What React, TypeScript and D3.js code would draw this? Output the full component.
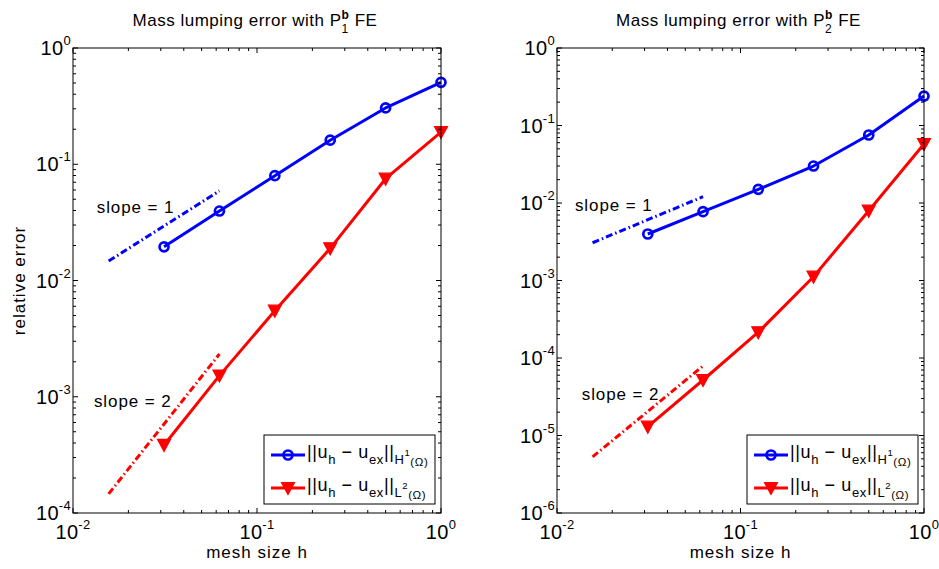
import React from 'react';
import * as d3 from 'd3';

// ---- data ----
const meshH = [1 / 32, 1 / 16, 1 / 8, 1 / 4, 1 / 2, 1];
const p1H1 = [0.0195, 0.0396, 0.0797, 0.161, 0.305, 0.507];
const p1L2 = [3.85e-4, 1.52e-3, 5.5e-3, 0.0189, 0.0751, 0.189];
const p2H1 = [3.98e-3, 7.72e-3, 0.015, 0.03, 0.0754, 0.24];
const p2L2 = [1.3e-5, 5.2e-5, 2.15e-4, 1.12e-3, 7.96e-3, 0.0577];
const slopeH = [1 / 64, 1 / 16];
const p1Slope1 = [0.0147, 0.059];
const p1Slope2 = [1.46e-4, 2.33e-3];
const p2Slope1 = [3.07e-3, 1.206e-2];
const p2Slope2 = [5.3e-6, 7.9e-5];
const p1SlopeLabels = [
  { text: 'slope = 1', h: 0.01346, v: 0.0381 },
  { text: 'slope = 2', h: 0.013, v: 8.16e-4 },
];
const p2SlopeLabels = [
  { text: 'slope = 1', h: 0.01253, v: 7.88e-3 },
  { text: 'slope = 2', h: 0.01364, v: 2.87e-5 },
];
const xDomain = [0.01, 1];
const p1YDomain = [1e-4, 1];
const p2YDomain = [1e-6, 1];

const FONT = '"Liberation Sans", Arial, Helvetica, sans-serif';
const BLUE = '#0000ff';
const RED = '#ff0000';
const TOP = 48;
const BOTTOM = 513;

function logTicks(domain: number[]) {
  const lo = Math.round(Math.log10(domain[0]));
  const hi = Math.round(Math.log10(domain[1]));
  const major: number[] = [];
  const minor: number[] = [];
  for (let e = lo; e <= hi; e++) {
    major.push(Math.pow(10, e));
    if (e < hi) for (let k = 2; k <= 9; k++) minor.push(k * Math.pow(10, e));
  }
  return { major, minor };
}

function Tri({ cx, cy }: { cx: number; cy: number }) {
  const p = `${cx - 6.5},${cy - 5.5} ${cx + 6.5},${cy - 5.5} ${cx},${cy + 6.5}`;
  return <polygon points={p} fill={RED} stroke={RED} strokeWidth={1.2} />;
}
function Circ({ cx, cy }: { cx: number; cy: number }) {
  return <circle cx={cx} cy={cy} r={4.5} fill="none" stroke={BLUE} strokeWidth={2.7} />;
}

function LegendText({ x, y, space }: { x: number; y: number; space: string }) {
  return (
    <text x={x} y={y} fontSize={18} letterSpacing={0.6} fontFamily={FONT} fill="#000">
      {'||u'}
      <tspan fontSize={13} dy={6}>h</tspan>
      <tspan dy={-6}>{' \u2212 u'}</tspan>
      <tspan fontSize={13} dy={6}>ex</tspan>
      <tspan dy={-6}>{'||'}</tspan>
      <tspan fontSize={13} dy={6}>{space}</tspan>
      <tspan fontSize={9.5} dy={-8}>{space === 'H' ? '1' : '2'}</tspan>
      <tspan fontSize={11.5} dy={10}>(Ω)</tspan>
    </text>
  );
}

function Panel({ left, right, yDomain, h1, l2, s1, s2, labels, sub, showYLabel }: any) {
  const x = d3.scaleLog().domain(xDomain).range([left, right]);
  const y = d3.scaleLog().domain(yDomain).range([BOTTOM, TOP]);
  const line = d3
    .line<[number, number]>()
    .x((d) => x(d[0]))
    .y((d) => y(d[1]));
  const h1Pts = meshH.map((h, i) => [h, h1[i]] as [number, number]);
  const l2Pts = meshH.map((h, i) => [h, l2[i]] as [number, number]);
  const s1Pts = slopeH.map((h, i) => [h, s1[i]] as [number, number]);
  const s2Pts = slopeH.map((h, i) => [h, s2[i]] as [number, number]);
  const xt = logTicks(xDomain);
  const yt = logTicks(yDomain);
  const MAJ = 5;
  const MIN = 3;
  const cx = (left + right) / 2;
  const lx0 = right - 177;
  const lx1 = right - 6;
  const ly0 = 435;
  const ly1 = 504;
  return (
    <g>
      {/* title */}
      <text x={cx - 2} y={26} fontSize={17} letterSpacing={0.5} textAnchor="middle" fontFamily={FONT} fill="#000">
        {'Mass lumping error with P'}
        <tspan fontSize={12} dy={7}>{sub}</tspan>
        <tspan fontSize={12} fontWeight="bold" dx={-7.2} dy={-14}>b</tspan>
        <tspan dy={7}>{' FE'}</tspan>
      </text>
      {/* slope reference lines */}
      <path d={line(s1Pts) || ''} fill="none" stroke={BLUE} strokeWidth={3} strokeDasharray="7,3,1.5,3" />
      <path d={line(s2Pts) || ''} fill="none" stroke={RED} strokeWidth={3} strokeDasharray="7,3,1.5,3" />
      {/* data lines */}
      <path d={line(h1Pts) || ''} fill="none" stroke={BLUE} strokeWidth={3} strokeLinejoin="round" />
      <path d={line(l2Pts) || ''} fill="none" stroke={RED} strokeWidth={3} strokeLinejoin="round" />
      {h1Pts.map((d, i) => (
        <Circ key={'c' + i} cx={x(d[0])} cy={y(d[1])} />
      ))}
      {l2Pts.map((d, i) => (
        <Tri key={'t' + i} cx={x(d[0])} cy={y(d[1])} />
      ))}
      {labels.map((l: any, i: number) => (
        <text key={'sl' + i} x={x(l.h)} y={y(l.v)} fontSize={17} letterSpacing={0.9} fontFamily={FONT} fill="#000">
          {l.text}
        </text>
      ))}
      {/* axes box */}
      <rect x={left} y={TOP} width={right - left} height={BOTTOM - TOP} fill="none" stroke="#000" strokeWidth={1} />
      {xt.major.map((v, i) => (
        <g key={'xM' + i}>
          <line x1={x(v)} x2={x(v)} y1={BOTTOM} y2={BOTTOM - MAJ} stroke="#000" />
          <line x1={x(v)} x2={x(v)} y1={TOP} y2={TOP + MAJ} stroke="#000" />
          <text x={x(v)} y={539} fontSize={20} letterSpacing={0.3} textAnchor="middle" fontFamily={FONT} fill="#000">
            10<tspan fontSize={13} dy={-10}>{String(Math.round(Math.log10(v)))}</tspan>
          </text>
        </g>
      ))}
      {xt.minor.map((v, i) => (
        <g key={'xm' + i}>
          <line x1={x(v)} x2={x(v)} y1={BOTTOM} y2={BOTTOM - MIN} stroke="#000" />
          <line x1={x(v)} x2={x(v)} y1={TOP} y2={TOP + MIN} stroke="#000" />
        </g>
      ))}
      {yt.major.map((v, i) => (
        <g key={'yM' + i}>
          <line x1={left} x2={left + MAJ} y1={y(v)} y2={y(v)} stroke="#000" />
          <line x1={right} x2={right - MAJ} y1={y(v)} y2={y(v)} stroke="#000" />
          <text x={left - 2} y={y(v) + 7} fontSize={20} letterSpacing={0.3} textAnchor="end" fontFamily={FONT} fill="#000">
            10<tspan fontSize={13} dy={-10}>{String(Math.round(Math.log10(v)))}</tspan>
          </text>
        </g>
      ))}
      {yt.minor.map((v, i) => (
        <g key={'ym' + i}>
          <line x1={left} x2={left + MIN} y1={y(v)} y2={y(v)} stroke="#000" />
          <line x1={right} x2={right - MIN} y1={y(v)} y2={y(v)} stroke="#000" />
        </g>
      ))}
      <text x={cx} y={558} fontSize={17} letterSpacing={1} textAnchor="middle" fontFamily={FONT} fill="#000">
        mesh size h
      </text>
      {showYLabel && (
        <text
          transform={`translate(25,${(TOP + BOTTOM) / 2}) rotate(-90)`}
          fontSize={17}
          letterSpacing={1}
          textAnchor="middle"
          fontFamily={FONT}
          fill="#000"
        >
          relative error
        </text>
      )}
      {/* legend */}
      <rect x={lx0} y={ly0} width={lx1 - lx0} height={ly1 - ly0} fill="#fff" stroke="#000" strokeWidth={1} />
      <line x1={lx0 + 7} x2={lx0 + 41} y1={455} y2={455} stroke={BLUE} strokeWidth={3} />
      <Circ cx={lx0 + 24} cy={455} />
      <LegendText x={lx0 + 43} y={458} space="H" />
      <line x1={lx0 + 7} x2={lx0 + 41} y1={488} y2={488} stroke={RED} strokeWidth={3} />
      <Tri cx={lx0 + 24} cy={488} />
      <LegendText x={lx0 + 43} y={491} space="L" />
    </g>
  );
}

export default function App() {
  return (
    <svg
      width={939}
      height={569}
      style={{ position: 'absolute', left: 0, top: 0, background: '#fff' }}
    >
      <rect x={0} y={0} width={939} height={569} fill="#fff" />
      <Panel
        left={73}
        right={441}
        yDomain={p1YDomain}
        h1={p1H1}
        l2={p1L2}
        s1={p1Slope1}
        s2={p1Slope2}
        labels={p1SlopeLabels}
        sub="1"
        showYLabel={true}
      />
      <Panel
        left={557}
        right={924}
        yDomain={p2YDomain}
        h1={p2H1}
        l2={p2L2}
        s1={p2Slope1}
        s2={p2Slope2}
        labels={p2SlopeLabels}
        sub="2"
        showYLabel={false}
      />
    </svg>
  );
}
